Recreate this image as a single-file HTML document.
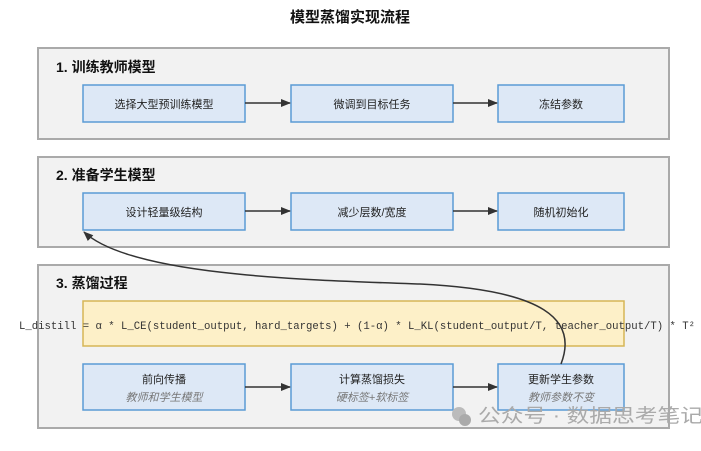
<!DOCTYPE html>
<html><head><meta charset="utf-8"><style>
body{margin:0;background:#fff;width:701px;height:446px;overflow:hidden}
svg text{font-family:"Liberation Sans","Noto Sans CJK SC",sans-serif}
</style></head><body>
<svg width="701" height="446" xmlns="http://www.w3.org/2000/svg">
<defs><marker id="a" markerWidth="10" markerHeight="8" refX="9" refY="4" orient="auto" markerUnits="userSpaceOnUse"><path d="M0,0L10,4L0,8z" fill="#333"/></marker></defs>
<text x="350" y="22" text-anchor="middle" font-size="15" font-weight="bold" fill="#111">模型蒸馏实现流程</text>
<g fill="#f2f2f2" stroke="#aaa" stroke-width="2">
<rect x="38" y="48" width="631" height="91"/>
<rect x="38" y="157" width="631" height="90"/>
<rect x="38" y="265" width="631" height="163"/>
</g>
<g font-size="14" font-weight="bold" fill="#111">
<text x="56" y="72">1. 训练教师模型</text>
<text x="56" y="180">2. 准备学生模型</text>
<text x="56" y="288">3. 蒸馏过程</text>
</g>
<g fill="#dde8f6" stroke="#5b9bd5" stroke-width="1.5">
<rect x="83" y="85" width="162" height="37"/><rect x="291" y="85" width="162" height="37"/><rect x="498" y="85" width="126" height="37"/>
<rect x="83" y="193" width="162" height="37"/><rect x="291" y="193" width="162" height="37"/><rect x="498" y="193" width="126" height="37"/>
<rect x="83" y="364" width="162" height="46"/><rect x="291" y="364" width="162" height="46"/><rect x="498" y="364" width="126" height="46"/>
</g>
<rect x="83" y="301" width="541" height="45" fill="#fdf0c8" stroke="#d6b656" stroke-width="1.5"/>
<g font-size="11" fill="#222" text-anchor="middle">
<text x="164" y="108">选择大型预训练模型</text><text x="372" y="108">微调到目标任务</text><text x="561" y="108">冻结参数</text>
<text x="164" y="216">设计轻量级结构</text><text x="372" y="216">减少层数/宽度</text><text x="561" y="216">随机初始化</text>
<text x="164" y="383">前向传播</text><text x="372" y="383">计算蒸馏损失</text><text x="561" y="383">更新学生参数</text>
</g>
<g font-size="11" fill="#777" text-anchor="middle" font-style="italic">
<text x="164" y="401">教师和学生模型</text><text x="372" y="401">硬标签+软标签</text><text x="561" y="401">教师参数不变</text>
</g>
<text x="357" y="329" text-anchor="middle" font-size="10.7" fill="#333" textLength="676" lengthAdjust="spacingAndGlyphs" style="font-family:'Liberation Mono',monospace">L_distill = α * L_CE(student_output, hard_targets) + (1-α) * L_KL(student_output/T, teacher_output/T) * T²</text>
<g stroke="#333" stroke-width="1.5" fill="none" marker-end="url(#a)">
<line x1="245" y1="103" x2="290" y2="103"/><line x1="453" y1="103" x2="497" y2="103"/>
<line x1="245" y1="211" x2="290" y2="211"/><line x1="453" y1="211" x2="497" y2="211"/>
<line x1="245" y1="387" x2="290" y2="387"/><line x1="453" y1="387" x2="497" y2="387"/>
<path d="M561,364 C578,320 545,290 420,284 C300,280 130,275 84,232"/>
</g>
<circle cx="459" cy="414" r="7" fill="#bbb"/><circle cx="465" cy="420" r="6" fill="#aaa"/>
<text x="478" y="422" font-size="19" fill="#aaa" textLength="225" lengthAdjust="spacingAndGlyphs">公众号 · 数据思考笔记</text>
</svg>
</body></html>
